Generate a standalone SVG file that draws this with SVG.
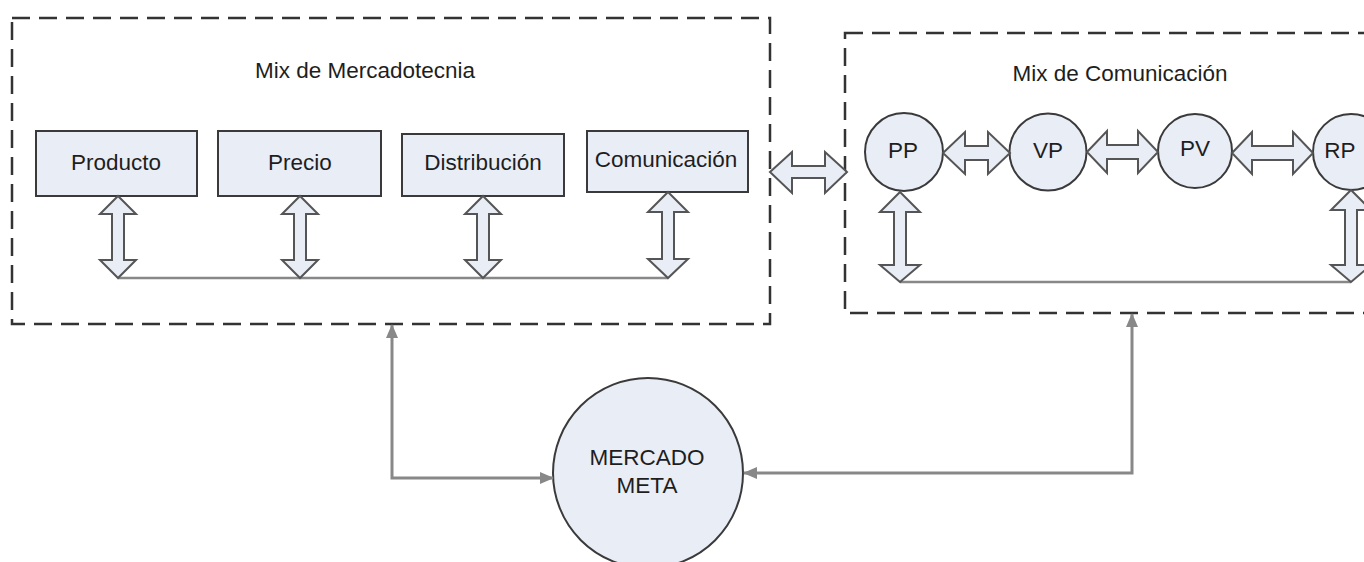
<svg xmlns="http://www.w3.org/2000/svg" width="1364" height="562" viewBox="0 0 1364 562">
<style>
.frame{fill:none;stroke:#333;stroke-width:2.5;stroke-dasharray:18 9}
.box{fill:#e9edf6;stroke:#3a3a3a;stroke-width:2}
.dbl{fill:#e9edf6;stroke:#555;stroke-width:2;stroke-linejoin:miter}
.bus{fill:none;stroke:#888;stroke-width:2.5}
.link{fill:none;stroke:#888;stroke-width:3}
text{font-family:"Liberation Sans",Arial,sans-serif;font-size:22.5px;fill:#1e1e1e;text-anchor:middle}
</style>
<defs>
<marker id="ah" viewBox="0 0 14 12" refX="13" refY="6" markerWidth="14" markerHeight="12" markerUnits="userSpaceOnUse" orient="auto-start-reverse">
<path d="M0,0 L14,6 L0,12 Z" fill="#888"/>
</marker>
</defs>

<g id="mix-mercadotecnia">
<rect class="frame" x="12" y="18" width="758" height="306"/>
<text x="365" y="78">Mix de Mercadotecnia</text>
</g>
<g id="mix-comunicacion">
<rect class="frame" x="845" y="33" width="560" height="280"/>
<text x="1120" y="81">Mix de Comunicación</text>
</g>

<g id="producto"><rect class="box" x="36" y="131" width="161" height="65"/><text x="116" y="170">Producto</text></g>
<g id="precio"><rect class="box" x="218" y="131" width="163" height="65"/><text x="300" y="170">Precio</text></g>
<g id="distribucion"><rect class="box" x="402" y="134" width="162" height="62"/><text x="483" y="170">Distribución</text></g>
<g id="comunicacion"><rect class="box" x="587" y="131" width="161" height="61"/><text x="666" y="167">Comunicación</text></g>

<g id="pp"><circle class="box" cx="904" cy="152" r="39"/><text x="903" y="158">PP</text></g>
<g id="vp"><circle class="box" cx="1048" cy="152" r="38.5"/><text x="1048" y="158">VP</text></g>
<g id="pv"><circle class="box" cx="1195" cy="151" r="37"/><text x="1195" y="156">PV</text></g>
<g id="rp"><circle class="box" cx="1351" cy="152" r="38"/><text x="1340" y="158">RP</text></g>

<g id="mercado-meta"><circle class="box" cx="648" cy="473" r="95"/><text x="647" y="465">MERCADO</text><text x="647" y="493">META</text></g>

<g id="connectors">
<path class="bus" d="M118,278 H668"/>
<path class="bus" d="M900,282 H1351"/>
<polygon class="dbl" points="118,196 136,214 124,214 124,260 136,260 118,278 100,260 112,260 112,214 100,214"/>
<polygon class="dbl" points="300,196 318,214 306,214 306,260 318,260 300,278 282,260 294,260 294,214 282,214"/>
<polygon class="dbl" points="483,196 501,214 489,214 489,260 501,260 483,278 465,260 477,260 477,214 465,214"/>
<polygon class="dbl" points="668,192 688,212 674,212 674,259 688,259 668,278 648,259 662,259 662,212 648,212"/>
<polygon class="dbl" points="770,172 792,152 792,166 825,166 825,152 847,172 825,193 825,178 792,178 792,193"/>
<polygon class="dbl" points="943,153 965,132 965,146 988,146 988,132 1010,153 988,174 988,160 965,160 965,174"/>
<polygon class="dbl" points="1087,152 1107,131 1107,145 1138,145 1138,131 1158,152 1138,173 1138,159 1107,159 1107,173"/>
<polygon class="dbl" points="1232,153 1252,132 1252,146 1293,146 1293,132 1313,153 1293,174 1293,160 1252,160 1252,174"/>
<polygon class="dbl" points="900,192 920,212 906,212 906,265 920,265 900,282 880,265 894,265 894,212 880,212"/>
<polygon class="dbl" points="1351,190 1371,210 1357,210 1357,265 1371,265 1351,282 1331,265 1345,265 1345,210 1331,210"/>
<path class="link" d="M392,325 V478 H553" marker-start="url(#ah)" marker-end="url(#ah)"/>
<path class="link" d="M744,473 H1132 V314" marker-start="url(#ah)" marker-end="url(#ah)"/>
</g>
</svg>
